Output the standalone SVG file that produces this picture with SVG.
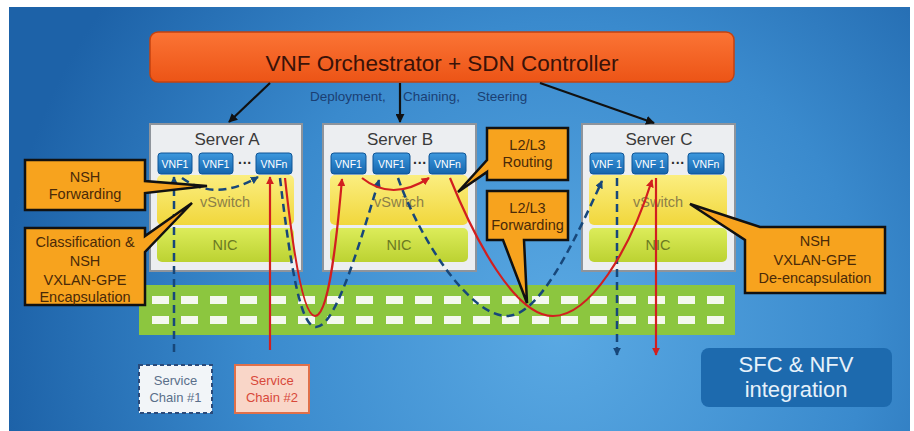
<svg xmlns="http://www.w3.org/2000/svg" width="914" height="431" viewBox="0 0 914 431">
  <defs>
    <radialGradient id="bg" cx="560" cy="330" r="560" gradientUnits="userSpaceOnUse">
      <stop offset="0" stop-color="#5aa9e3"/>
      <stop offset="0.55" stop-color="#3a8acd"/>
      <stop offset="1" stop-color="#1d62a8"/>
    </radialGradient>
    <linearGradient id="hdr" x1="0" y1="0" x2="0" y2="1">
      <stop offset="0" stop-color="#fb7435"/>
      <stop offset="1" stop-color="#ec5416"/>
    </linearGradient>
    <linearGradient id="vnf" x1="0" y1="0" x2="0" y2="1">
      <stop offset="0" stop-color="#3d98de"/>
      <stop offset="1" stop-color="#1565ad"/>
    </linearGradient>
    <linearGradient id="vsw" x1="0" y1="0" x2="0" y2="1">
      <stop offset="0" stop-color="#fbee80"/>
      <stop offset="1" stop-color="#f1d73c"/>
    </linearGradient>
    <linearGradient id="nic" x1="0" y1="0" x2="0" y2="1">
      <stop offset="0" stop-color="#dcec5a"/>
      <stop offset="1" stop-color="#bcd232"/>
    </linearGradient>
    <marker id="ahBlack" viewBox="0 0 10 10" refX="9" refY="5" markerWidth="9" markerHeight="9" markerUnits="userSpaceOnUse" orient="auto">
      <path d="M0,0 L10,5 L0,10 Z" fill="#111"/>
    </marker>
    <marker id="ahBlue" viewBox="0 0 10 10" refX="9" refY="5" markerWidth="8" markerHeight="8" markerUnits="userSpaceOnUse" orient="auto">
      <path d="M0,0 L10,5 L0,10 Z" fill="#17477a"/>
    </marker>
    <marker id="ahRed" viewBox="0 0 10 10" refX="9" refY="5" markerWidth="8" markerHeight="8" markerUnits="userSpaceOnUse" orient="auto">
      <path d="M0,0 L10,5 L0,10 Z" fill="#d21f1f"/>
    </marker>
    <style>
      .t { font-family: "Liberation Sans", Arial, sans-serif; }
      .server { fill: #eceef1; stroke: #8e949c; stroke-width: 2; }
      .stitle { font-size: 17px; fill: #3a3a3a; text-anchor: middle; }
      .vnf { fill: url(#vnf); stroke: #0f5596; stroke-width: 1; }
      .vnft { font-size: 10.5px; fill: #ffffff; text-anchor: middle; }
      .dots { font-size: 14px; font-weight: bold; fill: #2b2b2b; text-anchor: middle; }
      .vsw { fill: url(#vsw); }
      .nic { fill: url(#nic); }
      .vswt { font-size: 14.5px; fill: #8c7f48; text-anchor: middle; }
      .nict { font-size: 14.5px; fill: #6b7a22; text-anchor: middle; }
      .call { fill: #f7a31e; stroke: #111; stroke-width: 2.5; stroke-linejoin: miter; }
      .callt { font-size: 14.5px; fill: #4a2a08; text-anchor: middle; }
      .ctl { stroke: #111; stroke-width: 2.2; fill: none; marker-end: url(#ahBlack); }
      .chain1 { stroke: #17477a; stroke-width: 2.5; fill: none; stroke-dasharray: 8 5; marker-end: url(#ahBlue); }
      .chain2 { stroke: #d21f1f; stroke-width: 2.2; fill: none; marker-end: url(#ahRed); }
      .dash { fill: #f4f8ee; }
    </style>
  </defs>

  <!-- backdrop -->
  <rect x="0" y="0" width="914" height="431" fill="#ffffff"/>
  <rect x="9" y="7" width="901" height="424" fill="url(#bg)"/>

  <!-- controller -->
  <g id="orchestrator">
    <rect x="150" y="32" width="584" height="50" rx="8" fill="url(#hdr)" stroke="#c4420f" stroke-width="1.5"/>
    <text class="t" x="442" y="71" font-size="22.5" fill="#3a1208" text-anchor="middle">VNF Orchestrator + SDN Controller</text>
  </g>
  <g id="control-label">
    <text class="t" font-size="13.5" fill="#1b3f73" y="101"><tspan x="310">Deployment,</tspan><tspan x="403">Chaining,</tspan><tspan x="477">Steering</tspan></text>
  </g>

  <!-- underlay network -->
  <g id="network">
    <rect x="139" y="285" width="596" height="50" fill="#8cc63f"/>
    <g class="dash">
      <rect x="152" y="296" width="17" height="8"/><rect x="181" y="296" width="17" height="8"/>
      <rect x="210" y="296" width="17" height="8"/><rect x="240" y="296" width="17" height="8"/>
      <rect x="269" y="296" width="17" height="8"/><rect x="298" y="296" width="17" height="8"/>
      <rect x="327" y="296" width="17" height="8"/><rect x="356" y="296" width="17" height="8"/>
      <rect x="386" y="296" width="17" height="8"/><rect x="415" y="296" width="17" height="8"/>
      <rect x="444" y="296" width="17" height="8"/><rect x="473" y="296" width="17" height="8"/>
      <rect x="502" y="296" width="17" height="8"/><rect x="532" y="296" width="17" height="8"/>
      <rect x="561" y="296" width="17" height="8"/><rect x="590" y="296" width="17" height="8"/>
      <rect x="619" y="296" width="17" height="8"/><rect x="648" y="296" width="17" height="8"/>
      <rect x="678" y="296" width="17" height="8"/><rect x="707" y="296" width="17" height="8"/>
      <rect x="152" y="316" width="17" height="8"/><rect x="181" y="316" width="17" height="8"/>
      <rect x="210" y="316" width="17" height="8"/><rect x="240" y="316" width="17" height="8"/>
      <rect x="269" y="316" width="17" height="8"/><rect x="298" y="316" width="17" height="8"/>
      <rect x="327" y="316" width="17" height="8"/><rect x="356" y="316" width="17" height="8"/>
      <rect x="386" y="316" width="17" height="8"/><rect x="415" y="316" width="17" height="8"/>
      <rect x="444" y="316" width="17" height="8"/><rect x="473" y="316" width="17" height="8"/>
      <rect x="502" y="316" width="17" height="8"/><rect x="532" y="316" width="17" height="8"/>
      <rect x="561" y="316" width="17" height="8"/><rect x="590" y="316" width="17" height="8"/>
      <rect x="619" y="316" width="17" height="8"/><rect x="648" y="316" width="17" height="8"/>
      <rect x="678" y="316" width="17" height="8"/><rect x="707" y="316" width="17" height="8"/>
    </g>
  </g>

  <!-- servers -->
  <g id="server-a" transform="translate(150,124)">
    <rect class="server" x="0" y="0" width="152" height="147"/>
    <text class="t stitle" x="77" y="21">Server A</text>
    <rect class="vsw" x="7" y="51" width="137" height="50" rx="5"/>
    <rect class="nic" x="7" y="104" width="137" height="34" rx="5"/>
    <text class="t vswt" x="75" y="83">vSwitch</text>
    <text class="t nict" x="75" y="126">NIC</text>
    <rect class="vnf" x="8" y="29" width="34" height="21" rx="3"/>
    <text class="t vnft" x="25" y="44">VNF1</text>
    <rect class="vnf" x="49" y="29" width="34" height="21" rx="3"/>
    <text class="t vnft" x="66" y="44">VNF1</text>
    <text class="t dots" x="95" y="44">···</text>
    <rect class="vnf" x="106" y="29" width="36" height="21" rx="3"/>
    <text class="t vnft" x="124" y="44">VNFn</text>
  </g>

  <g id="server-b" transform="translate(323,124)">
    <rect class="server" x="0" y="0" width="153" height="147"/>
    <text class="t stitle" x="77" y="21">Server B</text>
    <rect class="vsw" x="7" y="51" width="138" height="50" rx="5"/>
    <rect class="nic" x="7" y="104" width="138" height="34" rx="5"/>
    <text class="t vswt" x="76" y="83">vSwitch</text>
    <text class="t nict" x="76" y="126">NIC</text>
    <rect class="vnf" x="8" y="29" width="35" height="21" rx="3"/>
    <text class="t vnft" x="25.5" y="44">VNF1</text>
    <rect class="vnf" x="50" y="29" width="37" height="21" rx="3"/>
    <text class="t vnft" x="68.5" y="44">VNF1</text>
    <text class="t dots" x="97" y="44">···</text>
    <rect class="vnf" x="106" y="29" width="37" height="21" rx="3"/>
    <text class="t vnft" x="124.5" y="44">VNFn</text>
  </g>

  <g id="server-c" transform="translate(582,124)">
    <rect class="server" x="0" y="0" width="153" height="147"/>
    <text class="t stitle" x="77" y="21">Server C</text>
    <rect class="vsw" x="7" y="51" width="138" height="50" rx="5"/>
    <rect class="nic" x="7" y="104" width="138" height="34" rx="5"/>
    <text class="t vswt" x="76" y="83">vSwitch</text>
    <text class="t nict" x="76" y="126">NIC</text>
    <rect class="vnf" x="8" y="29" width="34" height="21" rx="3"/>
    <text class="t vnft" x="25" y="44">VNF 1</text>
    <rect class="vnf" x="50" y="29" width="36" height="21" rx="3"/>
    <text class="t vnft" x="68" y="44">VNF 1</text>
    <text class="t dots" x="96" y="44">···</text>
    <rect class="vnf" x="106" y="29" width="36" height="21" rx="3"/>
    <text class="t vnft" x="124" y="44">VNFn</text>
  </g>

  <!-- chain endpoints -->
  <g id="service-chain-1">
    <rect x="139" y="365" width="73" height="48" fill="#f2f5f8" stroke="#2a4a7a" stroke-width="2" stroke-dasharray="4 3"/>
    <text class="t" font-size="13" fill="#5a6f8a" text-anchor="middle"><tspan x="175.5" y="385">Service</tspan><tspan x="175.5" y="402">Chain #1</tspan></text>
  </g>
  <g id="service-chain-2">
    <rect x="235" y="365" width="74" height="48" fill="#f9d6c8" stroke="#e0704a" stroke-width="2"/>
    <text class="t" font-size="13" fill="#d8483a" text-anchor="middle"><tspan x="272" y="385">Service</tspan><tspan x="272" y="402">Chain #2</tspan></text>
  </g>

  <g id="sfc-nfv-badge">
    <rect x="701" y="348" width="191" height="59" rx="8" fill="#1d6aae"/>
    <text class="t" font-size="22" fill="#e6f1fa" text-anchor="middle"><tspan x="796" y="372">SFC &amp; NFV</tspan><tspan x="796" y="397">integration</tspan></text>
  </g>

  <!-- connectors -->
  <g id="connectors">
    <path class="ctl" d="M270,83 L229,122"/>
    <path class="ctl" d="M400,83 L400,122"/>
    <path class="ctl" d="M540,83 L654,123"/>

    <!-- service chain #1 (dashed) -->
    <path class="chain1" d="M174,352 V177"/>
    <path class="chain1" d="M182,178 Q215,202 258,177"/>
    <path class="chain1" d="M280,178 C292,280 302,327 316,327 C334,327 355,260 379,180"/>
    <path class="chain1" d="M398,178 C420,240 470,316 507,316 C540,316 575,240 602,181"/>
    <path class="chain1" d="M617,178 V355"/>

    <!-- service chain #2 (solid) -->
    <path class="chain2" d="M270,350 V177"/>
    <path class="chain2" d="M285,178 C295,270 305,316 315,316 C327,316 335,260 342,179"/>
    <path class="chain2" d="M362,178 Q392,202 429,178"/>
    <path class="chain2" d="M450,178 C475,240 515,316 553,316 C590,316 630,250 652,180"/>
    <path class="chain2" d="M656,178 V355"/>
  </g>

  <!-- callouts -->
  <g id="callout-nsh-forwarding">
    <path class="call" d="M25,160 H145 V181 L207,186 L145,193 V210 H25 Z"/>
    <text class="t callt"><tspan x="85" y="182">NSH</tspan><tspan x="85" y="199">Forwarding</tspan></text>
  </g>
  <g id="callout-classification">
    <path class="call" d="M25,228 H145 V236 L192,203 L145,252 V305 H25 Z"/>
    <text class="t callt"><tspan x="85" y="247">Classification &amp;</tspan><tspan x="85" y="266">NSH</tspan><tspan x="85" y="285">VXLAN-GPE</tspan><tspan x="85" y="302">Encapsulation</tspan></text>
  </g>
  <g id="callout-routing">
    <path class="call" d="M487,128 H568 V180 H487 V172 L458,192 L487,160 Z"/>
    <text class="t callt"><tspan x="527.5" y="150">L2/L3</tspan><tspan x="527.5" y="167">Routing</tspan></text>
  </g>
  <g id="callout-forwarding">
    <path class="call" d="M487,191 H568 V240 H524 L527,303 L503,240 H487 Z"/>
    <text class="t callt"><tspan x="527.5" y="213">L2/L3</tspan><tspan x="527.5" y="230">Forwarding</tspan></text>
  </g>
  <g id="callout-decap">
    <path class="call" d="M690,204 L760,227 H885 V293 H745 V240 Z"/>
    <text class="t callt"><tspan x="815" y="246">NSH</tspan><tspan x="815" y="265">VXLAN-GPE</tspan><tspan x="815" y="283">De-encapsulation</tspan></text>
  </g>
</svg>
